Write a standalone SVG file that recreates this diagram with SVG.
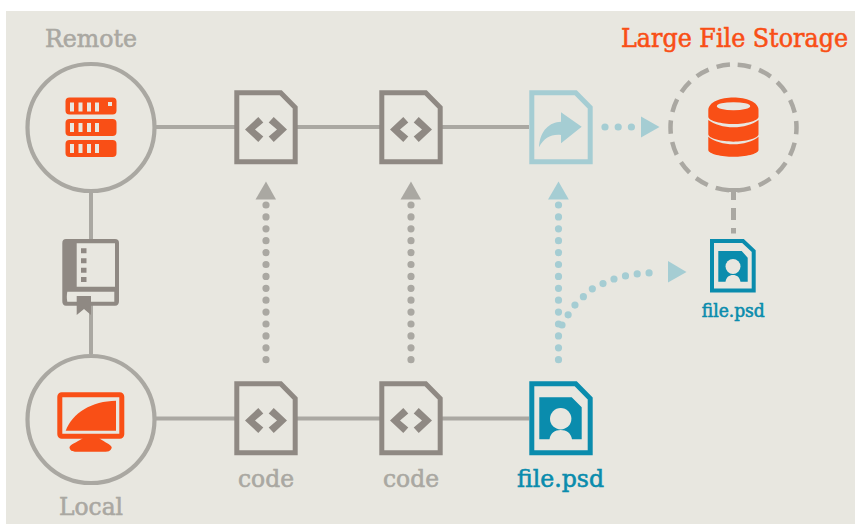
<svg xmlns="http://www.w3.org/2000/svg" width="855" height="524" viewBox="0 0 855 524">
<style>
.t{font-family:"DejaVu Serif Condensed","DejaVu Serif","Liberation Serif",serif;font-size:25px;text-anchor:middle;stroke-width:.55px}
.g{fill:#aaa8a2}.o{fill:#f94f16}.b{fill:#0a8cad}.lb{fill:#a5cdd3}.br{fill:#8f8983}
.t.g{stroke:#aaa8a2}.t.o{stroke:#f94f16}.t.b{stroke:#0a8cad}
.ln{fill:none;stroke:#aaa8a2;stroke-width:4}
.circ{fill:none;stroke:#aaa8a2;stroke-width:4.2}
.file{fill:none;stroke-width:5;stroke:#8f8983}
.dot{fill:none;stroke-width:7.2;stroke-linecap:round;stroke-dasharray:0 11.9}
.ar{stroke:none}
</style>
<defs>
<g id="code">
<path class="file" d="M236.800 92.800H280.700L295.200 107.500V161.800H236.800Z"/>
<path class="br" d="M258.300 117L245 129.500 258.300 142 263.300 136.500 255 129.500 263.300 122.500ZM273.700 117L287 129.500 273.700 142 268.700 136.500 277 129.500 268.700 122.500Z"/>
</g>
</defs>
<rect x="6" y="11" width="849" height="513" fill="#e8e7e0"/>
<g id="connectors">
<path class="ln" d="M156 127H235M297 127H380M442 127H529M156 418.500H235M297 418.500H380M442 418.500H529M91 193V240M91 305V354"/>
<path d="M733.500 192V200M733.500 208V220M733.500 228V233.500" fill="none" stroke="#aaa8a2" stroke-width="5"/>
<path d="M728 190H739" stroke="#aaa8a2" stroke-width="4" fill="none"/>
<path class="dot" style="stroke:#aaa8a2" d="M266 359.700V204"/>
<path class="dot" style="stroke:#aaa8a2" d="M411 359.700V204"/>
<path class="dot" style="stroke:#a5cdd3" d="M558.500 359.700V204"/>
<path class="dot" style="stroke:#a5cdd3" d="M562 325L568 315 575 305 583 297 592 289 602 284 614 279 625 276 636 274 648 273 660 272"/>
<path class="dot" style="stroke:#a5cdd3;stroke-dasharray:0 13.200" d="M605 127H632"/>
<path class="g ar" d="M266 181.500L276 199.500H255.500Z"/>
<path class="g ar" d="M411 181.500L421 199.500H400.500Z"/>
<path class="lb ar" d="M558.500 181.500L568.800 199.500H548Z"/>
<path class="lb ar" d="M641 116.500L659.500 127 641 137.500Z"/>
<path class="lb ar" d="M668 261L686.500 272 668 282.500Z"/>
</g>
<g id="remote">
<circle class="circ" cx="91" cy="127.500" r="63.500"/>
<g class="o">
<rect x="65.500" y="97.500" width="51" height="17" rx="4"/>
<rect x="65.500" y="119" width="51" height="17" rx="4"/>
<rect x="65.500" y="140" width="51" height="17" rx="4"/>
</g>
<path fill="#e8e7e0" d="M70 102.500h4v9h-4zM78.500 102.500h4v9h-4zM87 102.500h4v9h-4zM95 102.500h4v9h-4zM108 102h4v4h-4zM70 123h4v9h-4zM78.500 123h4v9h-4zM87 123h4v9h-4zM95 123h4v9h-4zM70 144h4v9h-4zM78.500 144h4v9h-4zM87 144h4v9h-4zM95 144h4v9h-4z"/>
<text class="t g" x="91" y="46.500" textLength="92" lengthAdjust="spacingAndGlyphs">Remote</text>
</g>
<g id="local">
<circle class="circ" cx="91" cy="419.500" r="63.500"/>
<rect x="59.800" y="394.800" width="62" height="41.500" rx="2" fill="none" stroke="#f94f16" stroke-width="5"/>
<path class="o" d="M65.700 430.700C72 413 92 401 116 400.700V430.700Z"/>
<path class="o" d="M69.500 447C72 443 80 441 83 438H99C102 441 109 443 111.700 447 111.700 450 109 451.700 106 451.700H75C72 451.700 69.500 450 69.500 447Z"/>
<text class="t g" x="91" y="514.500" textLength="64" lengthAdjust="spacingAndGlyphs">Local</text>
</g>
<g id="book">
<path fill="#8f8983" d="M66 239H115Q119 239 119 243V301Q119 305.700 115 305.700H66Q62.300 305.700 62.300 301V243Q62.300 239 66 239Z"/>
<path fill="#e8e7e0" d="M76.700 243.300H115V286.700H76.700ZM67.300 291.700H114.300V301.700H67.300Q66.300 297 67.300 291.700Z"/>
<path fill="#8f8983" d="M81 248.300h5.500v5h-5.500zM81 258.300h5.500v5h-5.500zM81 267.700h5.500v5h-5.500zM81 277h5.500v5h-5.500z"/>
<path fill="#8f8983" d="M76.700 296H91V315L84 309 76.700 315Z"/>
</g>
<g id="code-remote-1"><use href="#code"/></g>
<g id="code-remote-2"><use href="#code" x="145"/></g>
<g id="code-local-1"><use href="#code" y="291"/><text class="t g" x="266" y="486.500" textLength="56" lengthAdjust="spacingAndGlyphs">code</text></g>
<g id="code-local-2"><use href="#code" x="145" y="291"/><text class="t g" x="411" y="486.500" textLength="56" lengthAdjust="spacingAndGlyphs">code</text></g>
<g id="shared">
<path d="M531.800 92.800H575.700L590.200 107.500V161.800H531.800Z" fill="none" stroke="#a5cdd3" stroke-width="5"/>
<path class="lb" d="M539 147.300C540 130 550 122 561 121.700V112.300L581.700 126.700 561 143.300V135C551 134 544 138 539 147.300Z"/>
</g>
<g id="file-local">
<path d="M531.800 383.800H575.700L590.200 398.500V452.800H531.800Z" fill="none" stroke="#0a8cad" stroke-width="5"/>
<path class="b" d="M539.300 397.300H571.700L581.700 407.300V439.300H572C571 433 566.500 430 560.700 430S550.500 433 549.500 439.300H539.300Z"/>
<circle cx="560.700" cy="418.700" r="10.700" fill="#e8e7e0"/>
<text class="t b" x="560.500" y="486.700" textLength="87" lengthAdjust="spacingAndGlyphs">file.psd</text>
</g>
<g id="lfs">
<circle cx="733.500" cy="127.500" r="63" fill="none" stroke="#aaa8a2" stroke-width="4.500" stroke-dasharray="13.500 8.490" stroke-dashoffset="-4.250" transform="rotate(-90 733.500 127.500)"/>
<path class="o" d="M708.300 110C708.300 102 721 97.500 733.500 97.500S758.500 102 758.500 110V116.700C758.500 121 745 124 733.500 124S708.300 121 708.300 116.700Z"/>
<ellipse cx="733.500" cy="106.200" rx="16.700" ry="4" fill="#e8e7e0"/>
<path class="o" d="M708.300 120C714 124.500 724 127.300 733.500 127.300S753 124.500 758.500 120V134.300C758.500 138.500 745 141.700 733.500 141.700S708.300 138.500 708.300 134.300Z"/>
<path class="o" d="M708.300 136.700C714 141.500 724 144.300 733.500 144.300S753 141.500 758.500 136.700V150C758.500 154 745 156.800 733.500 156.800S708.300 154 708.300 150Z"/>
<text class="t o" x="734.500" y="46.500" textLength="227" lengthAdjust="spacingAndGlyphs" style="font-size:26px">Large File Storage</text>
</g>
<g id="file-lfs">
<path d="M712 241H743L753.700 251V290.500H712Z" fill="none" stroke="#0a8cad" stroke-width="4"/>
<path class="b" d="M718.300 251H741.700L747.700 257.700V281.700H740.500C739.500 277 737 275 733 275S726.500 277 725.500 281.700H718.300Z"/>
<circle cx="733" cy="266.500" r="7.500" fill="#e8e7e0"/>
<text class="t b" x="733.300" y="316.500" textLength="63" lengthAdjust="spacingAndGlyphs" style="font-size:18px">file.psd</text>
</g>
</svg>
